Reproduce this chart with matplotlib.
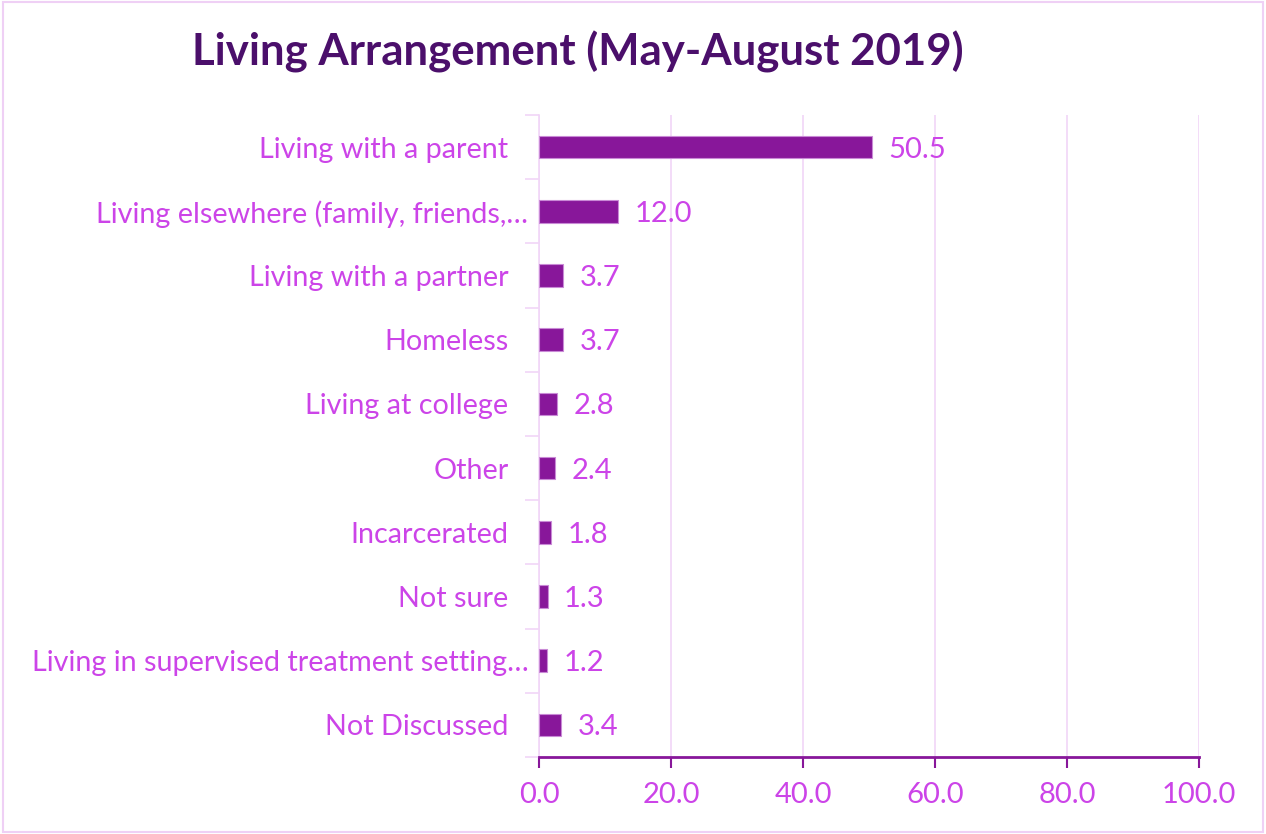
import matplotlib
matplotlib.use("Agg")
import matplotlib.pyplot as plt
import matplotlib.transforms as mtransforms
from matplotlib.patches import Rectangle
import numpy as np

categories = ["Living with a parent", "Living elsewhere (family, friends,…",
              "Living with a partner", "Homeless", "Living at college", "Other",
              "Incarcerated", "Not sure", "Living in supervised treatment setting…",
              "Not Discussed"]
values = [50.5, 12.0, 3.7, 3.7, 2.8, 2.4, 1.8, 1.3, 1.2, 3.4]
xticks = [0, 20, 40, 60, 80, 100]
title = "Living Arrangement (May-August 2019)"

bar_color = "#88179A"
label_color = "#CC44E8"
title_color = "#4B0F6B"
grid_color = "#F1D6F7"

plt.rcParams['font.family'] = ['Lato', 'DejaVu Sans']

fig = plt.figure(figsize=(12.66, 8.34), dpi=100)
ax = fig.add_axes([539/1266, 1-757/834, 660/1266, 642/834])

y = np.arange(len(categories))
ax.barh(y, values, height=0.35, color=bar_color, edgecolor="#C98AD6", linewidth=0.8, zorder=3)
ax.set_ylim(len(categories)-0.5, -0.5)
ax.set_xlim(0, 100)
ax.set_xticks(xticks)
ax.set_xticklabels([f"{v:.1f}" for v in xticks], fontsize=21, color=label_color)
ax.set_yticks(y)
ax.set_yticklabels(categories, fontsize=20.7, color=label_color)
ax.tick_params(axis='y', length=0, pad=22)
ax.set_yticks(np.arange(len(categories)+1)-0.5, minor=True)
ax.tick_params(axis='y', which='minor', length=10, color=grid_color, width=1.2)
ax.tick_params(axis='x', length=8, color=bar_color, width=1.5, pad=10)
ax.grid(axis='x', color=grid_color, linewidth=1.2, zorder=0)
for s in ["top", "right"]:
    ax.spines[s].set_visible(False)
ax.spines["left"].set_color(grid_color)
ax.spines["left"].set_linewidth(1.2)
ax.spines["bottom"].set_color(bar_color)
ax.spines["bottom"].set_linewidth(2)

# truncated labels sit a bit further right, as in the original
shift = mtransforms.ScaledTranslation(20/100, 0, fig.dpi_scale_trans)
for lbl in ax.get_yticklabels():
    if lbl.get_text().endswith("…"):
        lbl.set_transform(lbl.get_transform() + shift)

for yi, v in zip(y, values):
    ax.text(v + 2.5, yi + 0.04, f"{v:.1f}", va="center", ha="left", fontsize=21,
            color=label_color, zorder=4)

fig.text(578/1266, 1-52/834, title, ha="center", va="center", fontsize=31.5,
         fontweight="bold", color=title_color)

fig.patches.append(Rectangle((0.002, 0.002), 0.996, 0.996, transform=fig.transFigure,
                             fill=False, edgecolor="#EFD0F5", linewidth=1.5))

fig.savefig("out.png", dpi=100)
